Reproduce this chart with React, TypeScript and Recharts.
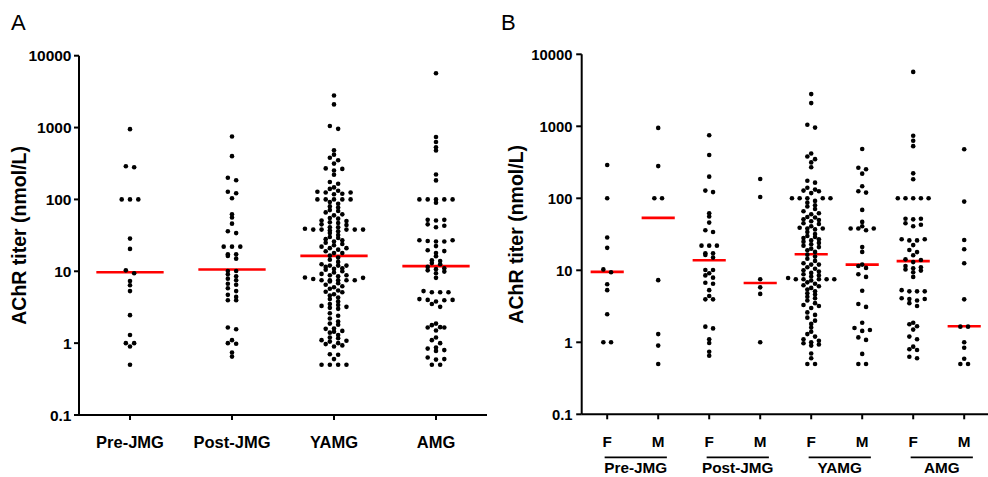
import { ScatterChart, Scatter, XAxis, YAxis, ReferenceLine } from 'recharts'

// AChR titer by onset group (A) and by group x sex (B). Log scale, dot plot with medians.

const FONT = '"Liberation Sans", Arial, sans-serif'

const GROUPS = ['Pre-JMG', 'Post-JMG', 'YAMG', 'AMG']
const SEXES = ['F', 'M']
const Y_TICKS = [0.1, 1, 10, 100, 1000, 10000]

// titers (nmol/L)
const PRE_F = [290, 100, 28.5, 20.5, 10.3, 9.4, 6.4, 5.3, 2.45, 1, 1]
const PRE_M = [950, 280, 100, 100, 7.3, 1.3, 0.9, 0.5]
const POST_F = [750, 400, 200, 128, 122, 62, 56, 46, 36, 34, 22, 22, 22, 17.2, 17.2, 16.3, 15, 10.1, 10.1, 9.1, 8.5, 7.9, 6.7, 6.5, 5.3, 4.4, 3.95, 3.95, 1.65, 1.56, 1.1, 0.98, 0.74, 0.65]
const POST_M = [185, 104, 7.5, 5.8, 4.7, 1]
const YAMG_F = [
  2800, 2100, 1050, 960, 420, 380, 350, 315, 270, 175, 165, 140, 132, 128, 125, 118, 100, 100, 100, 100, 100,
  92, 87, 80, 77, 71, 66, 62, 60, 55, 54, 51, 50, 48, 45, 44, 41, 39, 38, 38, 37, 34, 32, 30, 29, 28, 27, 26,
  25, 24, 23, 22, 21, 20, 19, 18, 16.5, 15.5, 14.5, 13.5, 12.5, 12, 12, 11, 10.5, 10,
  9.6, 9.2, 8.8, 8.5, 8.2, 7.8, 7.5, 7.5, 7.5, 7.5, 7.5, 7.2, 6.8, 6.5, 6.2, 6, 5.7, 5.4, 5.1, 4.8, 4.6, 4.3,
  4.1, 3.8, 3.5, 3.3, 3.2, 3, 2.6, 2.4, 2.2, 2, 1.8, 1.6, 1.4, 1.3, 1.2, 1.1, 1.05, 1,
  0.97, 0.93, 0.9, 0.7, 0.6, 0.5, 0.5,
]
const YAMG_M = [484, 266, 253, 220, 147, 125, 120, 69, 47, 41, 38, 38, 38, 36, 21, 18, 12, 11.5, 10.8, 8.8, 8.1, 5.2, 3.4, 3.1, 1.87, 1.58, 1.48, 1.44, 1.17, 1.08, 0.69, 0.5, 0.5]
const AMG_F = [
  5700, 740, 630, 530, 222, 184, 100, 100, 100, 100, 100, 52, 52, 51, 45, 43, 41, 27, 27, 26, 26, 22.4, 19.1,
  17.9, 16.2, 14.2, 13.9, 13, 11.5, 11, 10.7, 10.3, 9.9, 9.4, 8.1, 5.3, 5.1, 5.1, 5.1, 4.1, 4, 4, 3.8, 3.5,
  3.2, 1.87, 1.78, 1.67, 1.5, 1.2, 1.1, 0.87, 0.8, 0.78, 0.63, 0.6,
]
const AMG_M = [480, 90, 26.4, 19.6, 12.5, 3.95, 1.65, 1.65, 1, 0.84, 0.59, 0.5, 0.5]

const FEMALE = [PRE_F, POST_F, YAMG_F, AMG_F]
const MALE = [PRE_M, POST_M, YAMG_M, AMG_M]

// medians as drawn (red bars)
const MEDIAN_A = [9.7, 10.6, 16.4, 11.8]
const MEDIAN_B = [9.5, 53.5, 13.8, 6.65, 16.7, 12, 13.4, 1.67]

// Prism-like scatter: values close in y share a row, spread out from the center.
function swarm(values: number[], center: number, pxPerDecade: number, step: number, rowGap: number) {
  const sorted = [...values].sort((a, b) => a - b)
  const rows: number[][] = []
  let start = -Infinity
  for (const v of sorted) {
    const y = Math.log10(v) * pxPerDecade
    if (y - start > rowGap) {
      rows.push([v])
      start = y
    } else rows[rows.length - 1].push(v)
  }
  const out: { x: number; y: number }[] = []
  for (const row of rows) {
    const n = row.length
    const slots: number[] = []
    if (n % 2) {
      slots.push(0)
      for (let k = 1; k <= (n - 1) / 2; k++) slots.push(k, -k)
    } else {
      for (let k = 0.5; k < n / 2; k++) slots.push(k, -k)
    }
    row.forEach((v, i) => out.push({ x: center + slots[i] * step, y: v }))
  }
  return out
}

const pointsA = GROUPS.flatMap((_, i) => swarm([...FEMALE[i], ...MALE[i]], i, 71.86, 8.3 / 102, 3))
const pointsB = GROUPS.flatMap((_, i) => [
  ...swarm(FEMALE[i], 2 * i, 72, 7.7 / 51, 3),
  ...swarm(MALE[i], 2 * i + 1, 72, 7.7 / 51, 3),
])

const dot = (p: any) => <circle cx={p.cx} cy={p.cy} r={2.3} fill="#000" />

const axisStyle = { stroke: '#000', strokeWidth: 2 }

const TickA = ({ x, y, payload }: any) => (
  <text x={x} y={y + 28} textAnchor="middle" fontSize={16.5} fontWeight="bold" fontFamily={FONT} fill="#000">
    {GROUPS[payload.value]}
  </text>
)

const TickB = ({ x, y, payload }: any) => {
  const i = payload.value
  const band = 51
  return (
    <g>
      <text x={x} y={y + 27.7} textAnchor="middle" fontSize={15.3} fontWeight="bold" fontFamily={FONT} fill="#000">
        {SEXES[i % 2]}
      </text>
      {i % 2 === 0 && (
        <>
          <line x1={x - 0.05 * band} x2={x + 1.17 * band} y1={y + 38} y2={y + 38} stroke="#000" strokeWidth={1.7} />
          <text x={x + 0.56 * band} y={y + 53.5} textAnchor="middle" fontSize={15.3} fontWeight="bold" fontFamily={FONT} fill="#000">
            {GROUPS[i / 2]}
          </text>
        </>
      )}
    </g>
  )
}

const yLabel = (dx: number) => (props: any) => {
  const vb = props.viewBox
  const cx = vb.x + dx
  const cy = vb.y + vb.height / 2
  return (
    <text
      x={cx}
      y={cy}
      transform={`rotate(-90 ${cx} ${cy})`}
      textAnchor="middle"
      fontSize={19.5}
      fontWeight="bold"
      fontFamily={FONT}
      fill="#000"
    >
      AChR titer (nmol/L)
    </text>
  )
}

const yTick = { fill: '#000', fontSize: 15.5, fontWeight: 'bold', fontFamily: FONT }

const letter = (left: number): React.CSSProperties => ({
  position: 'absolute',
  left,
  top: 12,
  fontSize: 22,
  lineHeight: '22px',
  fontFamily: FONT,
  color: '#000',
})

export default function App() {
  return (
    <div style={{ position: 'absolute', left: 0, top: 0, width: 988, height: 477, overflow: 'hidden', background: '#fff' }}>
      <div style={letter(11)}>A</div>
      <div style={letter(501)}>B</div>

      <div style={{ position: 'absolute', left: 0, top: 0 }}>
        <ScatterChart width={500} height={477} margin={{ top: 55.7, right: 13, bottom: 32, left: 19 }}>
          <XAxis
            type="number"
            dataKey="x"
            domain={[-0.5, 3.5]}
            ticks={[0, 1, 2, 3]}
            interval={0}
            allowDataOverflow
            height={30}
            tickSize={5}
            tickMargin={0}
            axisLine={axisStyle}
            tickLine={axisStyle}
            tick={<TickA />}
          />
          <YAxis
            type="number"
            dataKey="y"
            scale="log"
            domain={[0.1, 10000]}
            ticks={Y_TICKS}
            interval={0}
            allowDataOverflow
            width={60}
            tickSize={5}
            tickMargin={2.5}
            axisLine={axisStyle}
            tickLine={axisStyle}
            tick={yTick}
            tickFormatter={(v) => String(v)}
            label={{ content: yLabel(7) }}
          />
          <Scatter data={pointsA} shape={dot} isAnimationActive={false} />
          {MEDIAN_A.map((m, i) => (
            <ReferenceLine
              key={i}
              segment={[{ x: i - 0.33, y: m }, { x: i + 0.33, y: m }]}
              stroke="#ff0000"
              strokeWidth={2.6}
            />
          ))}
        </ScatterChart>
      </div>

      <div style={{ position: 'absolute', left: 488, top: 0 }}>
        <ScatterChart width={504} height={477} margin={{ top: 54.3, right: 2.3, bottom: 32.7, left: 33.7 }}>
          <XAxis
            type="number"
            dataKey="x"
            domain={[-0.5, 7.5]}
            ticks={[0, 1, 2, 3, 4, 5, 6, 7]}
            interval={0}
            allowDataOverflow
            height={30}
            tickSize={5}
            tickMargin={0}
            axisLine={axisStyle}
            tickLine={axisStyle}
            tick={<TickB />}
          />
          <YAxis
            type="number"
            dataKey="y"
            scale="log"
            domain={[0.1, 10000]}
            ticks={Y_TICKS}
            interval={0}
            allowDataOverflow
            width={60}
            tickSize={5.5}
            tickMargin={3.7}
            axisLine={axisStyle}
            tickLine={axisStyle}
            tick={{ ...yTick, fontSize: 14.8 }}
            tickFormatter={(v) => String(v)}
            label={{ content: yLabel(1) }}
          />
          <Scatter data={pointsB} shape={dot} isAnimationActive={false} />
          {MEDIAN_B.map((m, i) => (
            <ReferenceLine
              key={i}
              segment={[{ x: i - 0.325, y: m }, { x: i + 0.325, y: m }]}
              stroke="#ff0000"
              strokeWidth={2.6}
            />
          ))}
        </ScatterChart>
      </div>
    </div>
  )
}
